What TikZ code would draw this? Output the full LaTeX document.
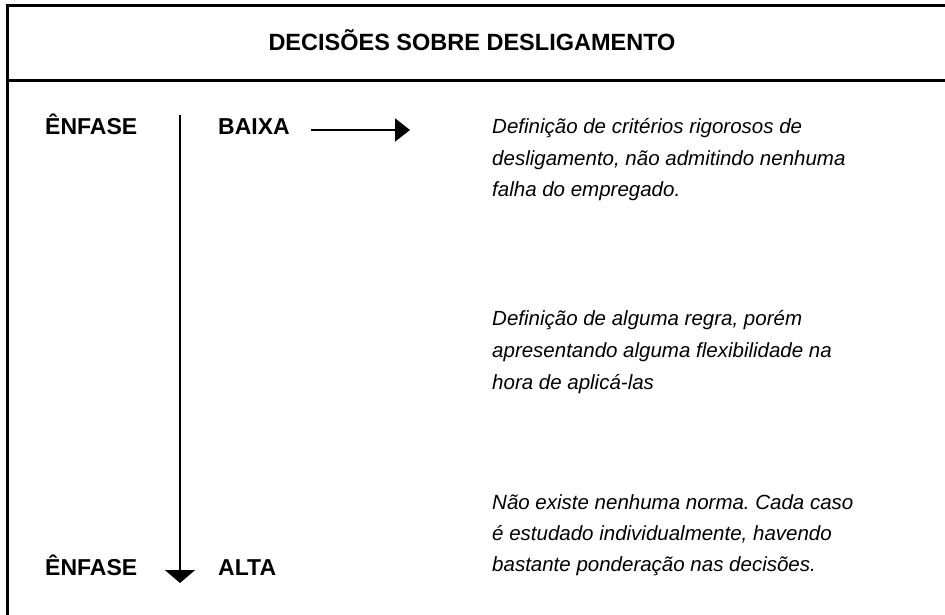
\documentclass[tikz,border=0pt]{standalone}
\usepackage{fontspec}
\setmainfont{Liberation Sans}
\usetikzlibrary{arrows.meta}
\frenchspacing
\begin{document}
\begin{tikzpicture}[x=1pt,y=-1pt,
  frame/.style={line width=3pt},
  lbl/.style={inner sep=0pt,anchor=base west,font=\fontsize{23}{26}\selectfont\bfseries},
  desc/.style={inner sep=0pt,anchor=base west,font=\fontsize{20.5}{24}\selectfont\itshape},
  arr/.style={line width=2pt}]
\useasboundingbox (0,0) rectangle (945,615);
% frame
\coordinate (tl) at (7,6);
\coordinate (tr) at (945,6);
\coordinate (bl) at (7,615);
\coordinate (hl) at (7,81);
\coordinate (hr) at (945,81);
\draw[frame] (bl) -- (tl) -- (tr);
\draw[frame] (hl) -- (hr);
% title
\node[inner sep=0pt,anchor=base,font=\fontsize{23.5}{26}\selectfont\bfseries] (title) at (472,51) {DECISÕES SOBRE DESLIGAMENTO};
% labels
\node[lbl] (e1) at (45,135) {ÊNFASE};
\node[lbl] (baixa) at (218,135) {BAIXA};
\node[lbl] (e2) at (45,575) {ÊNFASE};
\node[lbl] (alta) at (218,575) {ALTA};
% arrows
\coordinate (vtop) at (180,115);
\coordinate (vbot) at (180,583);
\draw[arr,-{Triangle[width=30pt,length=13pt]}] (vtop) -- (vbot);
\coordinate (hs) at (311,130);
\coordinate (he) at (410,130);
\draw[arr,-{Triangle[width=23pt,length=15pt]}] (hs) -- (he);
% descriptions
\node[desc] (d1a) at (492,134) {Definição de critérios rigorosos de};
\node[desc] (d1b) at (492,165) {desligamento, não admitindo nenhuma};
\node[desc] (d1c) at (492,196) {falha do empregado.};
\node[desc] (d2a) at (492,325) {Definição de alguma regra, porém};
\node[desc] (d2b) at (492,357) {apresentando alguma flexibilidade na};
\node[desc] (d2c) at (492,389) {hora de aplicá-las};
\node[desc] (d3a) at (492,509) {Não existe nenhuma norma. Cada caso};
\node[desc] (d3b) at (492,540) {é estudado individualmente, havendo};
\node[desc] (d3c) at (492,571) {bastante ponderação nas decisões.};
\end{tikzpicture}
\end{document}
